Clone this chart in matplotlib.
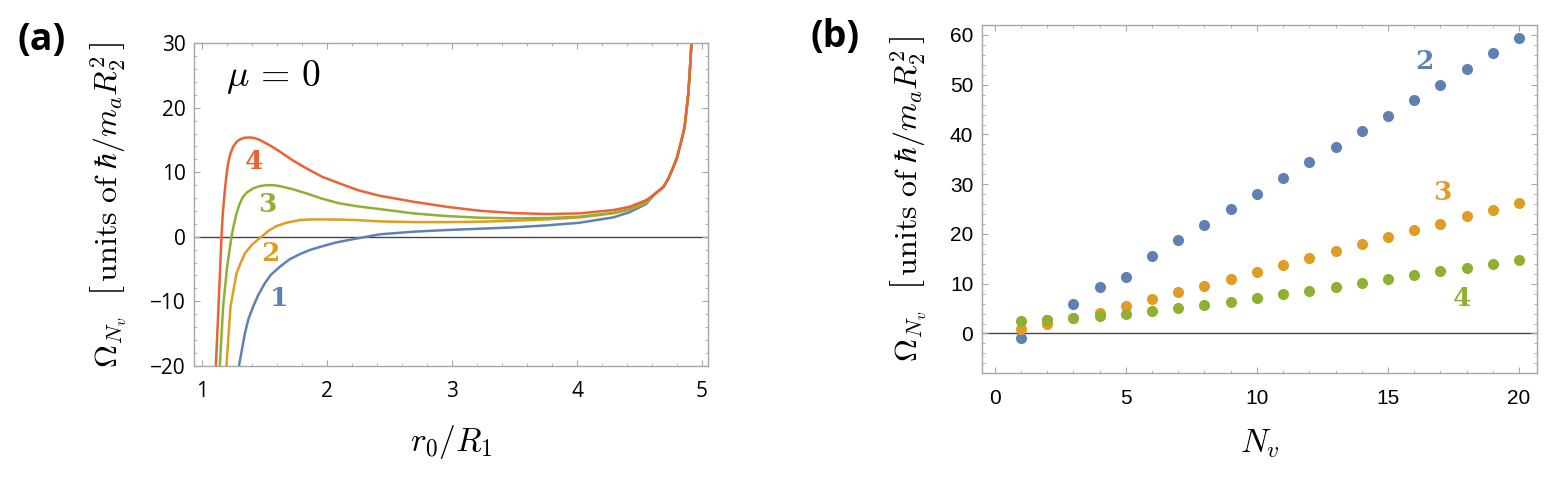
import numpy as np
import matplotlib
matplotlib.use("Agg")
import matplotlib.pyplot as plt
from matplotlib.ticker import MultipleLocator

plt.rcParams['mathtext.fontset'] = 'cm'

# colours (Mathematica default palette)
c_blue = '#5E81B5'
c_orange = '#E19C24'
c_green = '#8FB032'
c_red = '#EB6235'

# ---- panel (a): curves ----
tail_x = [4.62, 4.69, 4.73, 4.77, 4.80, 4.82, 4.84, 4.86, 4.875, 4.89, 4.90, 4.915, 4.925]
tail_y = [6.6, 7.7, 9.0, 10.8, 12.3, 13.8, 15.3, 17.0, 19.5, 22.2, 25.0, 30.0, 34.0]

x1 = [1.28, 1.296, 1.342, 1.37, 1.408, 1.45, 1.502, 1.55, 1.622, 1.70, 1.782, 1.87, 1.968,
      2.07, 2.182, 2.30, 2.42, 2.69, 2.955, 3.22, 3.49, 3.755, 4.02, 4.29, 4.42, 4.555] + tail_x
y1 = [-25.0, -19.9, -15.0, -12.8, -10.85, -9.0, -7.2, -5.9, -4.65, -3.5, -2.7, -2.0, -1.44,
      -0.9, -0.47, -0.05, 0.37, 0.78, 1.04, 1.24, 1.45, 1.76, 2.17, 3.0, 3.8, 5.1] + tail_y

x2 = [1.185, 1.195, 1.227, 1.275, 1.31, 1.342, 1.40, 1.475, 1.53, 1.595, 1.68, 1.782, 1.87,
      1.968, 2.1, 2.235, 2.42, 2.69, 2.955, 3.22, 3.49, 3.755, 4.02, 4.29, 4.42, 4.555] + tail_x
y2 = [-24.0, -19.9, -10.85, -5.68, -4.0, -2.58, -1.2, 0.0, 0.9, 1.66, 2.2, 2.59, 2.68,
      2.69, 2.66, 2.59, 2.38, 2.27, 2.27, 2.33, 2.48, 2.69, 3.0, 3.62, 4.2, 5.25] + tail_y

x3 = [1.135, 1.142, 1.168, 1.2, 1.235, 1.25, 1.275, 1.30, 1.328, 1.36, 1.408, 1.46, 1.515,
      1.57, 1.622, 1.72, 1.835, 1.96, 2.10, 2.25, 2.42, 2.69, 2.955, 3.22, 3.49, 3.755,
      4.02, 4.29, 4.42, 4.555] + tail_x
y3 = [-24.0, -19.9, -10.85, -4.65, 0.0, 1.5, 3.6, 5.1, 6.2, 6.9, 7.49, 7.85, 8.0,
      8.0, 7.85, 7.4, 6.72, 5.9, 5.17, 4.7, 4.29, 3.62, 3.21, 2.95, 2.85, 2.9,
      3.1, 3.72, 4.3, 5.4] + tail_y

x4 = [1.104, 1.110, 1.131, 1.155, 1.165, 1.182, 1.195, 1.208, 1.225, 1.248, 1.275, 1.302,
      1.34, 1.382, 1.42, 1.462, 1.54, 1.622, 1.72, 1.835, 1.96, 2.10, 2.25, 2.42, 2.69,
      2.955, 3.22, 3.49, 3.755, 4.02, 4.29, 4.42, 4.555] + tail_x
y4 = [-24.0, -19.9, -10.85, 0.0, 3.5, 7.24, 9.6, 11.4, 12.8, 13.95, 14.7, 15.1,
      15.35, 15.4, 15.3, 15.0, 14.2, 13.2, 11.9, 10.6, 9.3, 8.27, 7.2, 6.36, 5.43,
      4.65, 4.03, 3.67, 3.52, 3.62, 4.14, 4.65, 5.69] + tail_y

curve_labels = ['1', '2', '3', '4']
curve_label_pos = [(1.616, -9.55), (1.55, -2.6), (1.52, 5.07), (1.42, 11.6)]

# ---- panel (b): points ----
nv = list(range(1, 21))
omega2 = [-1.0, 2.8, 6.0, 9.3, 11.3, 15.6, 18.7, 21.8, 25.0, 28.1, 31.2, 34.4, 37.5,
          40.6, 43.8, 46.9, 50.0, 53.2, 56.3, 59.4]
omega3 = [1.0, 2.0, 3.2, 4.2, 5.6, 6.9, 8.3, 9.6, 11.0, 12.4, 13.8, 15.2, 16.6, 18.0,
          19.4, 20.8, 22.1, 23.6, 24.9, 26.3]
omega4 = [2.55, 2.8, 3.1, 3.6, 4.0, 4.5, 5.1, 5.8, 6.4, 7.1, 7.9, 8.6, 9.3, 10.1, 10.9,
          11.7, 12.5, 13.2, 14.0, 14.8]
point_labels = ['2', '3', '4']
point_label_pos = [(16.39, 54.6), (17.07, 28.3), (17.82, 7.04)]

ylabel = r'$\Omega_{N_v}\ \ \left[\,\mathrm{units\ of}\;\hbar/m_a R_2^2\,\right]$'

W, H = 1554, 484
fig = plt.figure(figsize=(W / 100, H / 100), dpi=100)

ax1 = fig.add_axes([194 / W, 1 - 365.7 / H, (708.3 - 194) / W, (365.7 - 43.3) / H])
ax2 = fig.add_axes([981.7 / W, 1 - 373.3 / H, (1537.3 - 981.7) / W, (373.3 - 25) / H])


def style_axes(ax, tickfont):
    for sp in ax.spines.values():
        sp.set_color('#a6a6a6')
        sp.set_linewidth(1.0)
    ax.tick_params(which='both', direction='in', top=True, right=True, color='#a6a6a6')
    ax.tick_params(which='major', length=4.5, width=0.8, labelsize=15, pad=6)
    ax.tick_params(axis='x', which='major', pad=11)
    ax.tick_params(which='minor', length=2.5, width=0.6)
    for lab in ax.get_xticklabels() + ax.get_yticklabels():
        lab.set_fontfamily(tickfont)


def digit(ax, x, y, s, col):
    ax.text(x, y, s, color=col, fontsize=19, fontweight='bold', family='DejaVu Serif',
            ha='center', va='center')


# panel (a)
ax1.axhline(0, color='#444444', lw=1.0, zorder=1)
for xs, ys, col in [(x1, y1, c_blue), (x2, y2, c_orange), (x3, y3, c_green), (x4, y4, c_red)]:
    ax1.plot(xs, ys, color=col, lw=1.8, zorder=2)
for lab, (px, py), col in zip(curve_labels, curve_label_pos, [c_blue, c_orange, c_green, c_red]):
    digit(ax1, px, py, lab, col)
ax1.text(1.57, 24.8, r'$\mu\,=\,0$', fontsize=27, ha='center', va='center')
ax1.set_xlim(0.935, 5.05)
ax1.set_ylim(-20, 30)
ax1.xaxis.set_major_locator(MultipleLocator(1))
ax1.xaxis.set_minor_locator(MultipleLocator(0.2))
ax1.yaxis.set_minor_locator(MultipleLocator(2))
ax1.set_yticks([-20, -10, 0, 10, 20, 30])
ax1.set_yticklabels(['\u221220', '\u221210', '0', '10', '20', '30'])
style_axes(ax1, 'Open Sans')
ax1.set_xlabel(r'$r_0/R_1$', fontsize=24, labelpad=15)
ax1.set_ylabel(ylabel, fontsize=23, labelpad=15)

# panel (b)
ax2.axhline(0, color='#444444', lw=1.0, zorder=1)
for ys, col in [(omega2, c_blue), (omega3, c_orange), (omega4, c_green)]:
    ax2.plot(nv, ys, 'o', color=col, markersize=8, markeredgewidth=0, zorder=2)
for lab, (px, py), col in zip(point_labels, point_label_pos, [c_blue, c_orange, c_green]):
    digit(ax2, px, py, lab, col)
ax2.set_xlim(-0.5, 20.7)
ax2.set_ylim(-8, 62)
ax2.xaxis.set_major_locator(MultipleLocator(5))
ax2.xaxis.set_minor_locator(MultipleLocator(1))
ax2.yaxis.set_major_locator(MultipleLocator(10))
ax2.yaxis.set_minor_locator(MultipleLocator(2))
style_axes(ax2, 'Liberation Sans')
ax2.set_xlabel(r'$N_v$', fontsize=24, labelpad=14)
ax2.set_ylabel(ylabel, fontsize=23, labelpad=15)

fig.text(42 / W, 1 - 40 / H, '(a)', fontsize=27, fontweight='bold', family='Open Sans',
         ha='center', va='center')
fig.text(835 / W, 1 - 37 / H, '(b)', fontsize=27, fontweight='bold', family='Open Sans',
         ha='center', va='center')

fig.savefig('out.png', dpi=100)
